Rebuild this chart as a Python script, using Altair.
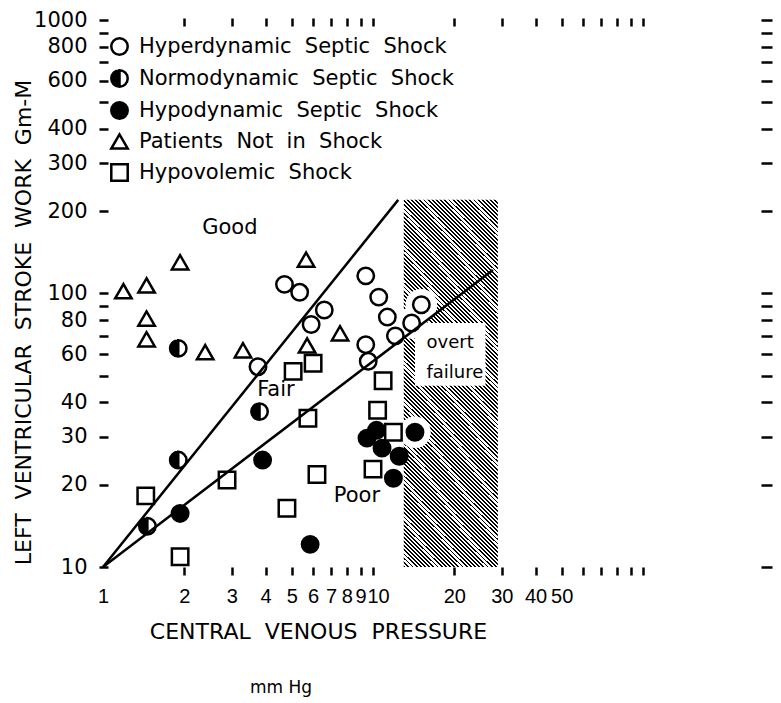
import altair as alt
import pandas as pd

# ---------------- data ----------------
groups = [
    "Hyperdynamic Septic Shock",
    "Normodynamic Septic Shock",
    "Hypodynamic Septic Shock",
    "Patients Not in Shock",
    "Hypovolemic Shock",
]

hyper_cvp = [3.75, 4.7, 5.35, 5.9, 6.6, 9.4, 10.5, 11.3, 12.1, 13.9, 15.1, 9.4, 9.6]
hyper_lvsw = [54, 108, 101, 77, 87, 116, 97, 82, 70, 78, 91, 65, 56.5]

normo_cvp = [1.9, 3.8, 1.9, 1.46]
normo_lvsw = [63, 37, 24.6, 14.1]

hypo_cvp = [1.93, 3.9, 5.85, 9.5, 10.3, 10.8, 12.5, 11.9, 14.3]
hypo_lvsw = [15.7, 24.6, 12.1, 29.6, 31.6, 27.2, 25.4, 21.1, 31.1]

noshock_cvp = [1.19, 1.45, 1.93, 1.45, 1.45, 2.39, 3.3, 5.65, 5.7, 7.55]
noshock_lvsw = [102, 107, 130, 81, 68, 61, 62, 133, 64.6, 71.5]

hypovol_cvp = [1.44, 1.93, 2.88, 4.8, 5.74, 6.2, 5.06, 6.0, 10.9, 10.4, 11.9, 10.0]
hypovol_lvsw = [18.2, 10.9, 20.8, 16.4, 35, 21.8, 51.9, 55.6, 48, 37.4, 31.1, 22.8]

# boundary lines (end points)
line_names = ["Good/Fair", "Fair/Poor"]
line_cvp = [[1, 12.4], [1, 27.8]]
line_lvsw = [[10, 220], [10, 122]]

# overt failure zone and its label box
zone_cvp = [13, 29]
zone_lvsw = [10, 220]
box_cvp = [14.3, 26.1]
box_lvsw = [46, 78]

region_text = ["Good", "Fair", "Poor"]
region_cvp = [2.95, 4.37, 8.72]
region_lvsw = [173, 44.4, 18.2]

failure_text = ["overt", "failure"]
failure_cvp = [19.3, 20.1]
failure_lvsw = [65.9, 51.2]

x_ticks = [1, 2, 3, 4, 5, 6, 7, 8, 9, 10, 20, 30, 40, 50, 60, 70, 80, 90, 100]
x_labels = [1, 2, 3, 4, 5, 6, 7, 8, 9, 10, 20, 30, 40, 50]
x_top_ticks = [2, 3, 4, 5, 6, 7, 8, 9, 10, 20, 30, 40, 50, 60, 70, 80, 90, 100]
y_ticks = [10, 20, 30, 40, 50, 60, 70, 80, 90, 100, 200, 300, 400, 500, 600, 700, 800, 900, 1000]
y_labels = [10, 20, 30, 40, 60, 80, 100, 200, 300, 400, 600, 800, 1000]

# ---------------- tables ----------------
rows = []
for g, xs_, ys_ in zip(
    groups,
    [hyper_cvp, normo_cvp, hypo_cvp, noshock_cvp, hypovol_cvp],
    [hyper_lvsw, normo_lvsw, hypo_lvsw, noshock_lvsw, hypovol_lvsw],
):
    for a, b in zip(xs_, ys_):
        rows.append({"group": g, "cvp": a, "lvsw": b})
pts = pd.DataFrame(rows)

lrows = []
for n, xs_, ys_ in zip(line_names, line_cvp, line_lvsw):
    for a, b in zip(xs_, ys_):
        lrows.append({"line": n, "cvp": a, "lvsw": b})
lines_df = pd.DataFrame(lrows)

zone_df = pd.DataFrame([{"cvp": zone_cvp[0], "cvp2": zone_cvp[1], "lvsw": zone_lvsw[0], "lvsw2": zone_lvsw[1]}])
box_df = pd.DataFrame([{"cvp": box_cvp[0], "cvp2": box_cvp[1], "lvsw": box_lvsw[0], "lvsw2": box_lvsw[1]}])
region_df = pd.DataFrame({"t": region_text, "cvp": region_cvp, "lvsw": region_lvsw})
failure_df = pd.DataFrame({"t": failure_text, "cvp": failure_cvp, "lvsw": failure_lvsw})

# ---------------- scales ----------------
W, H = 658, 547
xs = alt.Scale(type="log", domain=[1, 273.5], nice=False)
ys = alt.Scale(type="log", domain=[10, 1000], nice=False)

HALF = "M-1,0A1,1,0,1,1,1,0A1,1,0,1,1,-1,0Z M0,-1L0,1A1,1,0,0,0,0,-1Z"
shape_scale = alt.Scale(domain=groups, range=["circle", HALF, "circle", "triangle-up", "square"])
fill_scale = alt.Scale(domain=groups, range=["transparent", "black", "black", "transparent", "transparent"])
stroke_scale = alt.Scale(domain=groups, range=["black", "black", "black", "black", "black"])
size_scale = alt.Scale(domain=groups, range=[270, 270, 270, 320, 250])

NB = "\u00a0\u00a0"
legend = alt.Legend(
    title=None,
    orient="none",
    legendX=6,
    legendY=16,
    padding=0,
    labelFont="DejaVu Sans",
    labelFontSize=21,
    labelColor="black",
    labelLimit=500,
    labelOffset=9,
    labelExpr="join(split(datum.label, ' '), '\u00a0\u00a0')",
    symbolStrokeWidth=2.5,
    rowPadding=5,
)

# hatch gradient (diagonal stripes)
N = 112
stops = []
for k in range(N):
    a = k / N
    b = (k + 0.45) / N
    stops += [
        alt.GradientStop(offset=a, color="white"),
        alt.GradientStop(offset=a, color="black"),
        alt.GradientStop(offset=b, color="black"),
        alt.GradientStop(offset=b, color="white"),
    ]
hatch = alt.LinearGradient(gradient="linear", stops=stops, x1=0, y1=1, x2=0.2976, y2=-0.1775)

# ---------------- axes ----------------
bottom_axis = alt.Axis(
    orient="bottom",
    values=x_ticks,
    labelExpr="indexof(" + str(x_labels) + ", datum.value) >= 0 ? format(datum.value, 'd') : ''",
    domain=False,
    grid=False,
    tickSize=8,
    tickWidth=2.5,
    tickColor={"condition": {"test": "datum.value === 1", "value": "transparent"}, "value": "black"},
    labelOffset={"condition": {"test": "datum.value === 10", "value": 5}, "value": 0},
    labelFont="Liberation Sans",
    labelFontSize=20,
    labelColor="black",
    labelPadding=11,
    labelOverlap=False,
    labelFlush=False,
    title="CENTRAL" + NB + "VENOUS" + NB + "PRESSURE",
    titleFont="DejaVu Sans",
    titleFontSize=22,
    titleFontWeight="normal",
    titleColor="black",
    titleX=215,
    titleY=54,
)
left_axis = alt.Axis(
    orient="left",
    values=y_ticks,
    labelExpr="indexof(" + str(y_labels) + ", datum.value) >= 0 ? format(datum.value, 'd') : ''",
    domain=False,
    grid=False,
    offset=-5,
    tickSize=9,
    tickWidth=2.5,
    tickColor="black",
    labelFont="DejaVu Sans",
    labelFontSize=21,
    labelColor="black",
    labelPadding=12,
    labelOverlap=False,
    labelFlush=False,
    title="LEFT" + NB + "VENTRICULAR" + NB + "STROKE" + NB + "WORK" + NB + "Gm-M",
    titleFont="DejaVu Sans",
    titleFontSize=22,
    titleFontWeight="normal",
    titleColor="black",
    titleBaseline="alphabetic",
    titleX=-78,
    titleY=302,
)
top_axis = alt.Axis(
    orient="top", values=x_top_ticks, labels=False, domain=False, grid=False,
    offset=-6, tickSize=8, tickWidth=2.5, tickColor="black", title=None,
)
right_axis = alt.Axis(
    orient="right", values=y_ticks, labels=False, domain=False, grid=False,
    offset=0, tickSize=11, tickWidth=2.5, tickColor="black", title=None,
)

# ---------------- layers ----------------
zone = alt.Chart(zone_df).mark_rect(fill=hatch).encode(
    x=alt.X("cvp:Q", scale=xs, axis=None), x2="cvp2:Q",
    y=alt.Y("lvsw:Q", scale=ys, axis=None), y2="lvsw2:Q",
)
box = alt.Chart(box_df).mark_rect(fill="white").encode(
    x=alt.X("cvp:Q", scale=xs, axis=None), x2="cvp2:Q",
    y=alt.Y("lvsw:Q", scale=ys, axis=None), y2="lvsw2:Q",
)
halo = alt.Chart(pts).transform_filter("datum.cvp >= 13").mark_point(
    filled=True, fill="white", opacity=1, shape="circle", size=1000
).encode(
    x=alt.X("cvp:Q", scale=xs, axis=None),
    y=alt.Y("lvsw:Q", scale=ys, axis=None),
)
lines = alt.Chart(lines_df).mark_line(color="black", strokeWidth=2.5).encode(
    x=alt.X("cvp:Q", scale=xs, axis=top_axis),
    y=alt.Y("lvsw:Q", scale=ys, axis=right_axis),
    detail="line:N",
)
points = alt.Chart(pts).mark_point(filled=True, strokeWidth=2.5, opacity=1).encode(
    x=alt.X("cvp:Q", scale=xs, axis=bottom_axis),
    y=alt.Y("lvsw:Q", scale=ys, axis=left_axis),
    shape=alt.Shape("group:N", scale=shape_scale, legend=legend),
    fill=alt.Fill("group:N", scale=fill_scale, legend=legend),
    stroke=alt.Stroke("group:N", scale=stroke_scale, legend=legend),
    size=alt.Size("group:N", scale=size_scale, legend=legend),
)
regions = alt.Chart(region_df).mark_text(font="DejaVu Sans", fontSize=21, color="black").encode(
    x=alt.X("cvp:Q", scale=xs, axis=None),
    y=alt.Y("lvsw:Q", scale=ys, axis=None),
    text="t:N",
)
failure = alt.Chart(failure_df).mark_text(font="DejaVu Sans", fontSize=18, color="black").encode(
    x=alt.X("cvp:Q", scale=xs, axis=None),
    y=alt.Y("lvsw:Q", scale=ys, axis=None),
    text="t:N",
)

chart = (
    alt.layer(zone, box, halo, lines, points, regions, failure)
    .resolve_axis(x="independent", y="independent")
    .properties(
        width=W,
        height=H,
        autosize=alt.AutoSizeParams(type="none"),
        padding={"left": 103, "top": 20, "right": 20, "bottom": 136},
        background="white",
        title=alt.TitleParams(
            "mm Hg", orient="bottom", anchor="start", frame="group", dx=147, offset=38,
            font="DejaVu Sans", fontSize=17, fontWeight="normal", color="black",
        ),
    )
    .configure_view(stroke=None)
)

chart.save("out.html", embed_options={"renderer": "svg", "actions": False})
